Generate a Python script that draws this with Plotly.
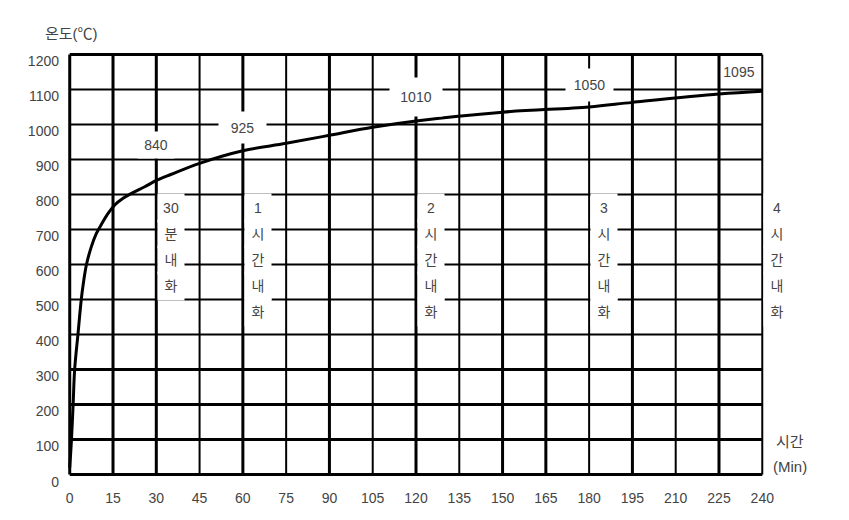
import plotly.graph_objects as go

# ---- data ----
time_min = [0, 0.6, 1.2, 1.7, 2.9, 4.0, 4.7, 5.8, 7.5, 9.2, 11, 13.3, 15.6, 18.5, 21.4, 26, 30,
            35, 45, 60, 75, 90, 105, 120, 150, 180, 195, 225, 240]
temp_c = [20, 100, 205, 300, 405, 500, 545, 600, 651, 688, 715, 746, 770, 789, 803, 822, 840,
          857, 889, 925, 946, 969, 992, 1010, 1035, 1050, 1063, 1087, 1095]

x_ticks = list(range(0, 241, 15))
y_ticks = list(range(0, 1201, 100))

x_grid_thick = [15, 30, 60, 90, 120, 150, 165, 195, 225]
x_grid_thin = [45, 75, 105, 135, 180, 210, 240]
y_grid_thick = [100, 200, 300, 1200]
y_grid_thin = [400, 500, 600, 700, 800, 900, 1000, 1100]

value_labels = ["840", "925", "1010", "1050", "1095"]
value_label_x = [30, 60, 120, 180, 232]
value_label_y = [942, 990, 1078, 1112, 1150]

rating_x = [30, 60, 120, 180, 240]
rating_head = ["30", "1", "2", "3", "4"]
rating_body = ["분내화", "시간내화", "시간내화", "시간내화", "시간내화"]

FONT = "Liberation Sans Narrow, Liberation Sans, Arial, Noto Sans CJK KR"
TXT = "#444444"

# page offset (browser body margin) compensation
OFF = 8
W, H = 849 - OFF, 520 - OFF
L, R, T, B = 68.3 - OFF, 85.3, 52.6 - OFF, 43.6
pw, ph = W - L - R, H - T - B

fig = go.Figure()
fig.add_trace(go.Scatter(x=time_min, y=temp_c, mode="lines",
                         line=dict(color="black", width=3, shape="spline", smoothing=1.0),
                         hoverinfo="skip", showlegend=False))

shapes = []
for v in x_grid_thick:
    shapes.append(dict(type="line", xref="x", yref="y", x0=v, x1=v, y0=0, y1=1200,
                       line=dict(color="black", width=3), layer="below"))
for v in x_grid_thin:
    shapes.append(dict(type="line", xref="x", yref="y", x0=v, x1=v, y0=0, y1=1200,
                       line=dict(color="black", width=2), layer="below"))
for v in y_grid_thick:
    shapes.append(dict(type="line", xref="x", yref="y", x0=0, x1=240, y0=v, y1=v,
                       line=dict(color="black", width=3), layer="below"))
for v in y_grid_thin:
    shapes.append(dict(type="line", xref="x", yref="y", x0=0, x1=240, y0=v, y1=v,
                       line=dict(color="black", width=2), layer="below"))
shapes.append(dict(type="line", xref="x", yref="y", x0=0, x1=0, y0=0, y1=1200,
                   line=dict(color="black", width=3), layer="below"))
shapes.append(dict(type="line", xref="x", yref="y", x0=0, x1=240, y0=0, y1=0,
                   line=dict(color="black", width=3), layer="below"))

box_w = [34, 45, 50, 45, 34]
box_h = [24, 29, 36, 30, 20]
box_bg = ["white", "white", "white", "white", "rgba(0,0,0,0)"]

annotations = []
for txt, xv, yv, bw, bh, bg in zip(value_labels, value_label_x, value_label_y, box_w, box_h, box_bg):
    annotations.append(dict(text=txt, x=xv, y=yv, xref="x", yref="y", showarrow=False,
                            font=dict(family=FONT, size=14, color=TXT),
                            bgcolor=bg, width=bw, height=bh, xanchor="center", yanchor="middle"))

for xv, head, body in zip(rating_x, rating_head, rating_body):
    chars = [head] + list(body)
    for i, ch in enumerate(chars):
        annotations.append(dict(text=ch, x=xv, y=761, xref="x", yref="y", showarrow=False,
                                xanchor="left", yanchor="middle", xshift=1, yshift=-26 * i,
                                font=dict(family=FONT, size=14, color=TXT),
                                bgcolor="white", width=24, height=26, align="center"))

def px_to_paper(xp, yp):
    return (xp - OFF - L) / pw, ((H - (yp - OFF)) - B) / ph

for txt, xp, yp in [("온도(℃)", 72, 33), ("시간", 790, 442), ("(Min)", 790, 467)]:
    px_, py_ = px_to_paper(xp, yp)
    annotations.append(dict(text=txt, x=px_, y=py_, xref="paper", yref="paper",
                            xanchor="center", yanchor="middle",
                            showarrow=False, font=dict(family=FONT, size=15, color=TXT)))

fig.update_layout(
    width=W, height=H,
    margin=dict(l=L, r=R, t=T, b=B, autoexpand=False),
    paper_bgcolor="white", plot_bgcolor="white",
    shapes=shapes, annotations=annotations,
    xaxis=dict(range=[-0.6, 240.6], tickvals=x_ticks, ticktext=[str(v) for v in x_ticks],
               showgrid=False, zeroline=False, showline=False, ticks="",
               tickfont=dict(family=FONT, size=14, color=TXT), ticklabelstandoff=12),
    yaxis=dict(range=[-4, 1204], tickvals=y_ticks, ticktext=[str(v) for v in y_ticks],
               showgrid=False, zeroline=False, showline=False, ticks="",
               tickfont=dict(family=FONT, size=14, color=TXT), ticklabelstandoff=8,
               ticklabelshift=7),
)

fig.write_html("out.html")
